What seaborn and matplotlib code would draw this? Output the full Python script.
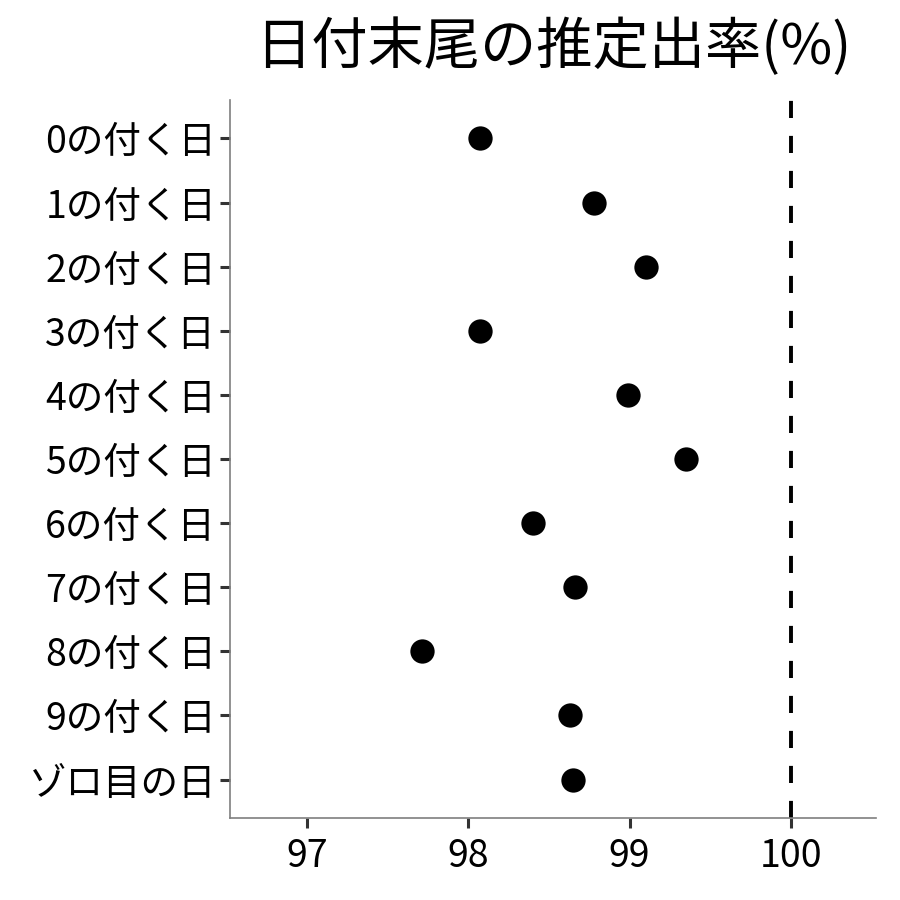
import matplotlib
matplotlib.use("Agg")
import matplotlib.pyplot as plt
import seaborn as sns
import pandas as pd

categories = ["0の付く日", "1の付く日", "2の付く日", "3の付く日", "4の付く日",
              "5の付く日", "6の付く日", "7の付く日", "8の付く日", "9の付く日", "ゾロ目の日"]
rates = [98.07, 98.78, 99.10, 98.07, 98.99, 99.35, 98.40, 98.66, 97.71, 98.63, 98.65]
xticks = [97, 98, 99, 100]
reference = 100

sns.set_theme(style="white")
plt.rcParams["font.family"] = ["Noto Sans CJK JP", "DejaVu Sans"]

df = pd.DataFrame({"label": categories, "rate": rates})

fig = plt.figure(figsize=(9, 9), dpi=100)
ax = fig.add_axes([0.2556, 0.0911, 0.7177, 0.7978])
sns.stripplot(data=df, x="rate", y="label", order=categories, jitter=False,
              color="black", size=17.5, linewidth=0, ax=ax)
ax.axvline(reference, color="black", lw=2.8, ls=(0, (4.4, 4.6)))
ax.set_xlim(96.52, 100.53)
ax.set_ylim(len(categories) - 0.4, -0.6)
ax.set_xticks(xticks)
ax.set_xticklabels([str(t) for t in xticks])
ax.set_xlabel("")
ax.set_ylabel("")
for s in ["top", "right"]:
    ax.spines[s].set_visible(False)
for s in ["left", "bottom"]:
    ax.spines[s].set_color("#7f7f7f")
    ax.spines[s].set_linewidth(1.2)
ax.tick_params(axis="both", which="major", length=7, width=2.2, color="#333333",
               labelsize=27, labelcolor="black", left=True, bottom=True)
ax.tick_params(axis="x", pad=7)
ax.tick_params(axis="y", pad=3)
ax.set_title("日付末尾の推定出率(%)", fontsize=40.5, pad=26, x=0.5, color="black")
fig.savefig("out.png", dpi=100)
